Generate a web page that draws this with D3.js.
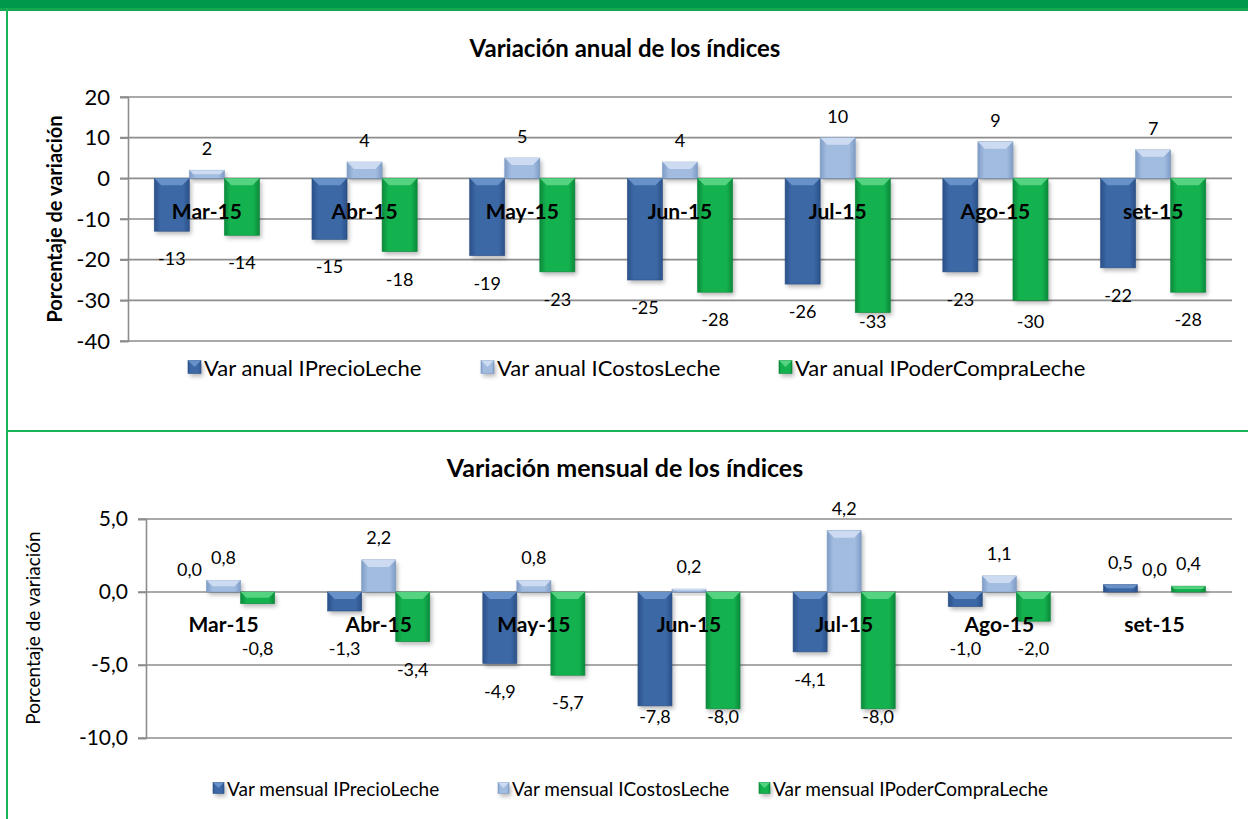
<!DOCTYPE html>
<html>
<head>
<meta charset="utf-8">
<script src="https://cdn.jsdelivr.net/npm/d3@7"></script>
<style>
  body { margin: 0; background: #fff; }
  text { font-family: Lato, "Noto Sans", sans-serif; fill: #000; }
</style>
</head>
<body>
<script>
// months shown on both charts
const months = ["Mar-15", "Abr-15", "May-15", "Jun-15", "Jul-15", "Ago-15", "set-15"];

// yearly variation (%)
const anualPrecio = [-13, -15, -19, -25, -26, -23, -22];
const anualCostos = [2, 4, 5, 4, 10, 9, 7];
const anualPoder = [-14, -18, -23, -28, -33, -30, -28];
const anualNames = ["Var anual IPrecioLeche", "Var anual ICostosLeche", "Var anual IPoderCompraLeche"];
const anualTicks = [20, 10, 0, -10, -20, -30, -40];

// monthly variation (%)
const mensualPrecio = [0.0, -1.3, -4.9, -7.8, -4.1, -1.0, 0.5];
const mensualCostos = [0.8, 2.2, 0.8, 0.2, 4.2, 1.1, 0.0];
const mensualPoder = [-0.8, -3.4, -5.7, -8.0, -8.0, -2.0, 0.4];
const mensualNames = ["Var mensual IPrecioLeche", "Var mensual ICostosLeche", "Var mensual IPoderCompraLeche"];
const mensualTicks = [5, 0, -5, -10];

const width = 1248, height = 819;
const svg = d3.select("body").append("svg")
    .attr("width", width)
    .attr("height", height);

// colours: [edge, body, bevel highlight]
const palette = [
  ["#2b5189", "#3c68a6", "#7099d0"],
  ["#7f9cc6", "#a2bce0", "#d3e1f3"],
  ["#0b8a3b", "#14b24f", "#5fd98a"]
];

const defs = svg.append("defs");
palette.forEach((c, i) => {
  const g = defs.append("linearGradient").attr("id", "grad" + i)
      .attr("x1", 0).attr("x2", 1).attr("y1", 0).attr("y2", 0);
  g.append("stop").attr("offset", "0%").attr("stop-color", c[0]);
  g.append("stop").attr("offset", "18%").attr("stop-color", c[1]);
  g.append("stop").attr("offset", "82%").attr("stop-color", c[1]);
  g.append("stop").attr("offset", "100%").attr("stop-color", c[0]);
});
defs.append("filter").attr("id", "shadow")
    .attr("x", "-30%").attr("y", "-30%").attr("width", "160%").attr("height", "160%")
  .append("feGaussianBlur").attr("stdDeviation", 2);

// frame
svg.append("rect").attr("x", 0).attr("y", 0).attr("width", width).attr("height", 8).attr("fill", "#00994a");
svg.append("rect").attr("x", 0).attr("y", 8).attr("width", width).attr("height", 3).attr("fill", "#13a851");
svg.append("rect").attr("x", 6).attr("y", 8).attr("width", 2).attr("height", height).attr("fill", "#1bb358");
svg.append("rect").attr("x", 6).attr("y", 430).attr("width", width - 6).attr("height", 2).attr("fill", "#1bb358");

const locale = d3.formatLocale({decimal: ",", thousands: ".", grouping: [3], currency: ["", ""], minus: "-"});
const fmtInt = locale.format("d");
const fmtDec = locale.format(".1f");

function bar(g, x, y, w, h, ci) {
  const c = palette[ci];
  if (h < 0.5) return;
  h = Math.max(h, 3);
  g.append("rect").attr("x", x + 2).attr("y", y + 3).attr("width", w).attr("height", h)
      .attr("fill", "rgba(0,0,0,0.28)").attr("filter", "url(#shadow)");
  g.append("rect").attr("x", x).attr("y", y).attr("width", w).attr("height", h)
      .attr("fill", "url(#grad" + ci + ")").attr("stroke", c[0]).attr("stroke-width", 0.6);
  const b = Math.min(7, h / 2);
  g.append("polygon")
      .attr("points", [[x, y], [x + w, y], [x + w - b, y + b], [x + b, y + b]].map(p => p.join(",")).join(" "))
      .attr("fill", c[2]).attr("opacity", 0.85);
}

function drawChart(o) {
  const g = svg.append("g");
  const x0 = d3.scaleBand().domain(months).range([o.left, o.right])
      .paddingInner(o.pad).paddingOuter(o.pad / 2);
  const x1 = d3.scaleBand().domain([0, 1, 2]).range([0, x0.bandwidth()]);
  const y = d3.scaleLinear().domain([o.ticks[o.ticks.length - 1], o.ticks[0]]).range([o.bottom, o.top]);

  g.append("text").attr("x", o.titleX).attr("y", o.titleY)
      .attr("text-anchor", "middle").attr("font-size", o.titleSize).attr("font-weight", "bold")
      .text(o.title);

  // grid
  g.selectAll(".grid").data(o.ticks).join("line")
      .attr("x1", o.left - 8).attr("x2", o.right)
      .attr("y1", d => y(d)).attr("y2", d => y(d))
      .attr("stroke", "#8d8d8d").attr("stroke-width", 1.6);

  const axis = g.append("g").attr("transform", `translate(${o.left},0)`)
      .call(d3.axisLeft(y).tickValues(o.ticks).tickSize(8).tickPadding(10).tickFormat(o.fmt));
  axis.select(".domain").attr("stroke", "#8d8d8d").attr("stroke-width", 1.6);
  axis.selectAll(".tick line").attr("stroke", "#8d8d8d").attr("stroke-width", 1.6);
  axis.selectAll(".tick text").attr("font-size", o.tickSize).attr("font-family", "Lato").attr("fill", "#000");

  g.append("text")
      .attr("transform", `translate(${o.yTitleX},${o.yTitleY}) rotate(-90)`)
      .attr("text-anchor", "middle").attr("font-size", o.yTitleSize)
      .attr("font-weight", o.yTitleWeight)
      .text("Porcentaje de variación");

  // bars
  o.series.forEach((vals, si) => {
    vals.forEach((v, i) => {
      const bx = x0(months[i]) + x1(si);
      bar(g, bx, y(Math.max(0, v)), x1.bandwidth(), Math.abs(y(v) - y(0)), si);
    });
  });

  // category labels
  g.selectAll(".cat").data(months).join("text")
      .attr("x", d => x0(d) + x0.bandwidth() / 2)
      .attr("y", y(0) + o.catDy)
      .attr("text-anchor", "middle").attr("dominant-baseline", "central")
      .attr("font-size", o.catSize).attr("font-weight", "bold")
      .text(d => d);

  // value labels
  o.series.forEach((vals, si) => {
    vals.forEach((v, i) => {
      const bx = x0(months[i]) + x1(si) + x1.bandwidth() / 2;
      const ly = v >= 0 ? y(v) - o.posDy
          : Math.min(Math.max(y(v) + o.negDy, o.negMin), o.negMax);
      g.append("text").attr("x", bx).attr("y", ly)
          .attr("text-anchor", "middle").attr("dominant-baseline", "central")
          .attr("font-size", o.labelSize).text(o.fmt(v));
    });
  });

  // legend
  o.names.forEach((n, si) => {
    const lx = o.legendX[si];
    bar(g, lx, o.legendY - o.legendBox / 2, o.legendBox, o.legendBox, si);
    g.append("text").attr("x", lx + o.legendBox + 3).attr("y", o.legendY)
        .attr("dominant-baseline", "central").attr("font-size", o.legendSize).text(n);
  });
}

drawChart({
  title: "Variación anual de los índices", titleX: 625, titleY: 57, titleSize: 24,
  left: 128, right: 1232, top: 97, bottom: 341, pad: 0.333,
  ticks: anualTicks, fmt: fmtInt, tickSize: 22,
  yTitleX: 62, yTitleY: 219, yTitleSize: 20, yTitleWeight: "bold",
  series: [anualPrecio, anualCostos, anualPoder], names: anualNames,
  catDy: 32, catSize: 21, posDy: 22, negDy: 27, negMin: 0, negMax: 321, labelSize: 18,
  legendX: [188, 481, 779], legendY: 367, legendBox: 13, legendSize: 22
});

drawChart({
  title: "Variación mensual de los índices", titleX: 625, titleY: 477, titleSize: 25,
  left: 146, right: 1232, top: 519, bottom: 738, pad: 0.342,
  ticks: mensualTicks, fmt: fmtDec, tickSize: 21,
  yTitleX: 40, yTitleY: 628, yTitleSize: 19, yTitleWeight: "normal",
  series: [mensualPrecio, mensualCostos, mensualPoder], names: mensualNames,
  catDy: 31, catSize: 21, posDy: 23, negDy: 27, negMin: 648, negMax: 716, labelSize: 18,
  legendX: [213, 498, 759], legendY: 788, legendBox: 11, legendSize: 19
});
</script>
</body>
</html>
